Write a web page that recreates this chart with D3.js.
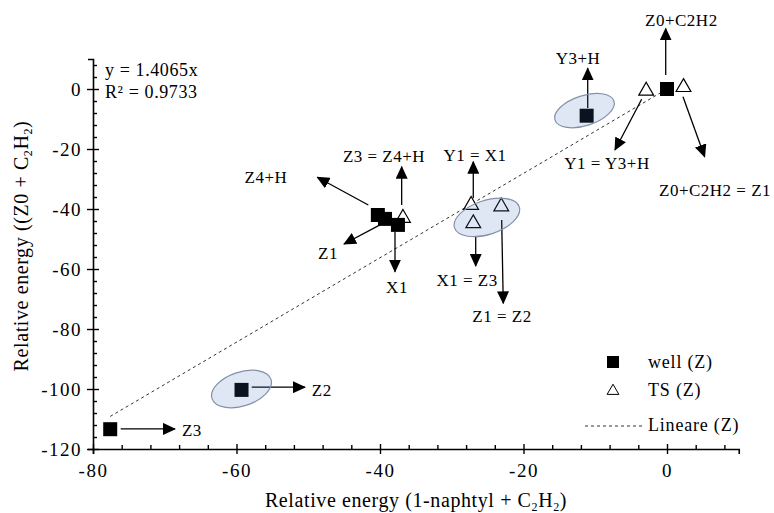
<!DOCTYPE html>
<html><head><meta charset="utf-8">
<script src="https://cdn.jsdelivr.net/npm/d3@7"></script>
<style>body{margin:0;background:#fff} text{font-family:"Liberation Serif","Times New Roman",serif;fill:#000}</style>
</head><body><svg id="c" width="774" height="513"></svg>
<script>
// ---- data ----
const wellX = [-77.6, -59.3, -40.3, -39.3, -37.5, -11.2, 0];
const wellY = [-113.4, -100.3, -42, -43.3, -45.3, -8.9, 0];
const tsX = [-36.8, -27.3, -27.0, -23.1, -2.9, 2.3];
const tsY = [-43, -38.7, -44.8, -39.2, -0.6, 0.6];
const xTicks = [-80, -60, -40, -20, 0];
const yTicks = [0, -20, -40, -60, -80, -100, -120];
const slope = 1.4065;
const eqLines = ["y = 1.4065x", "R\u00b2 = 0.9733"];
// arrows: from (x,y) to (x,y), label and label centre (data units)
const arrowFromX = [-76.14, -57.88, -41.63, -36.98, -40.0, -37.91, -27.0, -26.66, -23.04, -11.05, -0.18, -3.53, 2.23];
const arrowFromY = [-113.3, -99.4, -38.67, -38.67, -45.3, -47.57, -36.43, -49.2, -43.67, -6.33, 4.67, -3.43, -2.57];
const arrowToX = [-68.57, -50.45, -48.74, -36.98, -45.02, -37.91, -27.0, -26.66, -22.82, -11.05, -0.18, -7.25, 5.25];
const arrowToY = [-113.3, -99.4, -29.43, -25.9, -51.67, -60.9, -24.23, -59, -71.43, 6.9, 20.2, -20.33, -22.57];
const arrowLabels = ["Z3", "Z2", "Z4+H", "Z3 = Z4+H", "Z1", "X1", "Y1 = X1", "X1 = Z3", "Z1 = Z2", "Y3+H", "Z0+C2H2", "Y1 = Y3+H", "Z0+C2H2 = Z1"];
const labelX = [-67.6, -49.5, -55.9, -39.44, -47.25, -37.63, -26.76, -27.87, -22.99, -12.4, 2.0, -8.36, 6.7];
const labelY = [-113.6, -100.3, -29.3, -22.3, -54.7, -66, -22, -63.7, -75.7, 10.3, 23, -24.67, -33.67];
const labelAnchor = ["start", "start", "middle", "middle", "middle", "middle", "middle", "middle", "middle", "middle", "middle", "middle", "middle"];
// highlighted groups (ellipses) centred on data coordinates
const ellX = [-59.3, -11.5, -25.1];
const ellY = [-100.0, -7.2, -42.8];
const legendItems = ["well (Z)", "TS (Z)", "Lineare (Z)"];

// ---- chart ----
const FONT = "Liberation Serif";
const svg = d3.select("#c");
const x = d3.scaleLinear().domain([-80, 10]).range([93, 738.75]);
const y = d3.scaleLinear().domain([-120, 10]).range([449, 59]);
const fmt = d => String(d);

svg.append("defs").append("marker")
  .attr("id", "ah").attr("markerUnits", "userSpaceOnUse")
  .attr("markerWidth", 13).attr("markerHeight", 12)
  .attr("refX", 12).attr("refY", 6).attr("orient", "auto")
  .append("path").attr("d", "M0,0 L13,6 L0,12 Z").attr("fill", "#000");

// axes
const minorX = d3.range(-80, 10.01, 4).filter(v => v % 20 !== 0);
const minorY = d3.range(-120, 10.01, 4).filter(v => v % 20 !== 0);

const gx = svg.append("g").attr("transform", `translate(0,${y(-120)})`)
  .call(d3.axisBottom(x).tickValues(xTicks).tickSizeOuter(0).tickSize(5).tickPadding(10).tickFormat(fmt));
gx.selectAll(".tick line").attr("y1", -5).attr("y2", 5);
svg.append("g").attr("transform", `translate(0,${y(-120)})`)
  .call(d3.axisBottom(x).tickValues(minorX).tickSizeOuter(0).tickSize(-4).tickFormat(""))
  .select(".domain").remove();

const gy = svg.append("g").attr("transform", `translate(${x(-80)},0)`)
  .call(d3.axisLeft(y).tickValues(yTicks).tickSizeOuter(0).tickSize(5).tickPadding(6).tickFormat(fmt));
gy.selectAll(".tick line").attr("x1", -6).attr("x2", 6);
svg.append("g").attr("transform", `translate(${x(-80)},0)`)
  .call(d3.axisLeft(y).tickValues(minorY).tickSizeOuter(0).tickSize(-4).tickFormat(""))
  .select(".domain").remove();

svg.selectAll(".domain").attr("stroke", "#000").attr("stroke-width", 1.6);
svg.selectAll(".tick line").attr("stroke", "#000").attr("stroke-width", 1.4);
svg.selectAll(".tick text").attr("font-family", FONT).attr("font-size", 19)
  .attr("letter-spacing", 1.5).attr("fill", "#000");

// axis titles
const xt = svg.append("text").attr("x", 416).attr("y", 507).attr("text-anchor", "middle")
  .attr("font-size", 20).attr("letter-spacing", 0.6);
xt.append("tspan").text("Relative energy (1-naphtyl + C");
xt.append("tspan").attr("font-size", 12).attr("dy", 4).text("2");
xt.append("tspan").attr("dy", -4).text("H");
xt.append("tspan").attr("font-size", 12).attr("dy", 4).text("2");
xt.append("tspan").attr("dy", -4).text(")");

const yt = svg.append("text").attr("transform", "translate(28,246) rotate(-90)").attr("text-anchor", "middle")
  .attr("font-size", 20).attr("letter-spacing", 0.6);
yt.append("tspan").text("Relative energy ((Z0 + C");
yt.append("tspan").attr("font-size", 12).attr("dy", 4).text("2");
yt.append("tspan").attr("dy", -4).text("H");
yt.append("tspan").attr("font-size", 12).attr("dy", 4).text("2");
yt.append("tspan").attr("dy", -4).text(")");

// trend line
const tx0 = d3.min(wellX), tx1 = 0;
svg.append("line")
  .attr("x1", x(tx0)).attr("y1", y(slope * tx0)).attr("x2", x(tx1)).attr("y2", y(slope * tx1))
  .attr("stroke", "#333").attr("stroke-width", 1).attr("stroke-dasharray", "3,3");

// equation
svg.selectAll("text.eq").data(eqLines).join("text").attr("class", "eq")
  .attr("x", 105).attr("y", (d, i) => 76 + i * 22).attr("font-size", 18).attr("letter-spacing", 0.6).text(d => d);

// arrows
const arrows = arrowLabels.map((l, i) => ({fx: arrowFromX[i], fy: arrowFromY[i], tx: arrowToX[i], ty: arrowToY[i], l, lx: labelX[i], ly: labelY[i], a: labelAnchor[i]}));
svg.selectAll("line.arr").data(arrows).join("line").attr("class", "arr")
  .attr("x1", d => x(d.fx)).attr("y1", d => y(d.fy)).attr("x2", d => x(d.tx)).attr("y2", d => y(d.ty))
  .attr("stroke", "#000").attr("stroke-width", 1.3).attr("marker-end", "url(#ah)");
svg.selectAll("text.lab").data(arrows).join("text").attr("class", "lab")
  .attr("x", d => x(d.lx)).attr("y", d => y(d.ly)).attr("dy", "0.35em")
  .attr("text-anchor", d => d.a).attr("font-size", 17).attr("letter-spacing", 0.5).text(d => d.l);

// points
const tri = d3.symbol().type(d3.symbolTriangle).size(95);
svg.selectAll("path.ts").data(tsX.map((v, i) => [v, tsY[i]])).join("path").attr("class", "ts")
  .attr("d", tri).attr("transform", d => `translate(${x(d[0])},${y(d[1])})`)
  .attr("fill", "#fff").attr("stroke", "#000").attr("stroke-width", 1.2);
svg.selectAll("rect.well").data(wellX.map((v, i) => [v, wellY[i]])).join("rect").attr("class", "well")
  .attr("x", d => x(d[0]) - 7).attr("y", d => y(d[1]) - 7).attr("width", 14).attr("height", 14)
  .attr("fill", "#000");

// ellipses overlay
const ellRx = [31, 31, 34], ellRy = [17, 15, 17];
svg.selectAll("ellipse.grp").data(ellX.map((v, i) => [v, ellY[i], i])).join("ellipse").attr("class", "grp")
  .attr("transform", d => `translate(${x(d[0])},${y(d[1])}) rotate(-18)`)
  .attr("rx", d => ellRx[d[2]]).attr("ry", d => ellRy[d[2]])
  .attr("fill", "rgba(68,114,196,0.17)").attr("stroke", "#8391a8").attr("stroke-width", 1.2);

// legend
const lg = svg.append("g");
lg.append("rect").attr("x", 607).attr("y", 356).attr("width", 12).attr("height", 12).attr("fill", "#000");
lg.append("path").attr("d", d3.symbol().type(d3.symbolTriangle).size(60)).attr("transform", "translate(613,391)")
  .attr("fill", "#fff").attr("stroke", "#000").attr("stroke-width", 1);
lg.append("line").attr("x1", 585).attr("x2", 642).attr("y1", 426).attr("y2", 426)
  .attr("stroke", "#333").attr("stroke-dasharray", "3,3");
lg.selectAll("text").data(legendItems).join("text")
  .attr("x", 648).attr("y", (d, i) => [362, 390, 425][i]).attr("dy", "0.35em")
  .attr("font-size", 18).attr("letter-spacing", 0.8).text(d => d);
</script></body></html>
